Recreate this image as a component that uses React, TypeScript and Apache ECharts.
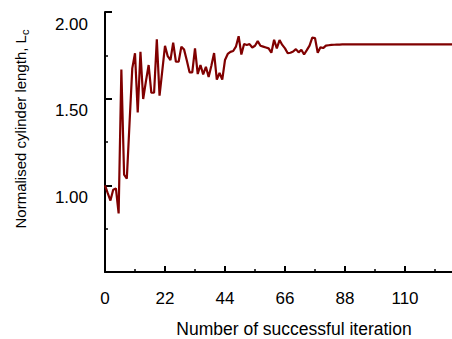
import React, { useEffect, useRef } from "react";
import * as echarts from "echarts";

const iterations: number[] = [
  0, 1, 2, 3, 4, 5, 6, 7, 8, 9, 10, 11, 12, 13, 14, 15, 16, 17, 18, 19,
  20, 21, 22, 23, 24, 25, 26, 27, 28, 29, 30, 31, 32, 33, 34, 35, 36, 37, 38, 39,
  40, 41, 42, 43, 44, 45, 46, 47, 48, 49, 50, 51, 52, 53, 54, 55, 56, 57, 58, 59,
  60, 61, 62, 63, 64, 65, 66, 67, 68, 69, 70, 71, 72, 73, 74, 75, 76, 77, 78, 79,
  80, 81, 82, 83, 84, 85, 86, 87, 88, 89, 90, 91, 92, 93, 94, 95, 96, 97, 98, 99,
  100, 101, 102, 103, 104, 105, 106, 107, 108, 109, 110, 111, 112, 113, 114, 115, 116, 117, 118, 119,
  120, 121, 122, 123, 124, 125, 126, 127, 128, 129, 130, 131, 132,
];

const cylinderLength: number[] = [
  1.0, 0.955, 0.912, 0.975, 0.982, 0.838, 1.668, 1.062, 1.038, 1.36,
  1.675, 1.762, 1.42, 1.771, 1.498, 1.6, 1.694, 1.534, 1.534, 1.842,
  1.517, 1.66, 1.805, 1.745, 1.722, 1.823, 1.713, 1.713, 1.8, 1.783,
  1.72, 1.652, 1.652, 1.79, 1.642, 1.694, 1.64, 1.684, 1.625, 1.69,
  1.763, 1.61, 1.648, 1.61, 1.723, 1.758, 1.77, 1.775, 1.8, 1.86,
  1.755, 1.815, 1.81, 1.815, 1.795, 1.805, 1.832, 1.805, 1.8, 1.795,
  1.79, 1.765, 1.84, 1.79, 1.838, 1.81, 1.79, 1.762, 1.765, 1.772,
  1.786, 1.767, 1.782, 1.755, 1.78, 1.806, 1.852, 1.85, 1.765, 1.796,
  1.792, 1.806, 1.808, 1.81, 1.811, 1.812, 1.812, 1.813, 1.813, 1.813,
  1.813, 1.813, 1.813, 1.813, 1.813, 1.813, 1.813, 1.813, 1.813, 1.813,
  1.813, 1.813, 1.813, 1.813, 1.813, 1.813, 1.813, 1.813, 1.813, 1.813,
  1.813, 1.813, 1.813, 1.813, 1.813, 1.813, 1.813, 1.813, 1.813, 1.813,
  1.813, 1.813, 1.813, 1.813, 1.813, 1.813, 1.813, 1.813, 1.813, 1.813,
  1.813, 1.813, 1.813,
];

const yTickLabels: number[] = [1.0, 1.5, 2.0];
const xTickLabels: number[] = [0, 22, 44, 66, 88, 110];
const xTitle = "Number of successful iteration";
const yTitle = "Normalised cylinder length, L";
const yTitleSub = "c";

const FONT = "'Liberation Sans', Arial, sans-serif";

export default function App() {
  const ref = useRef<HTMLDivElement>(null);

  useEffect(() => {
    if (!ref.current) return;
    const chart = echarts.init(ref.current, undefined, { renderer: "svg" });
    const data = iterations.map((x, i) => [x, cylinderLength[i]]);
    chart.setOption({
      animation: false,
      backgroundColor: "#ffffff",
      textStyle: { fontFamily: FONT },
      grid: {
        left: 105,
        top: 12,
        bottom: 67,
        right: -13,
        containLabel: false,
        outerBoundsMode: "none",
      },
      xAxis: {
        type: "value",
        min: 0,
        max: 132,
        interval: 22,
        axisLine: { show: true, lineStyle: { color: "#000", width: 2 } },
        axisTick: { show: true, inside: true, length: 6, lineStyle: { color: "#000", width: 2 } },
        minorTick: { show: true, splitNumber: 2, length: 3, lineStyle: { color: "#000", width: 1.5 } },
        splitLine: { show: false },
        axisLabel: {
          margin: 18,
          fontSize: 17,
          color: "#000",
          fontFamily: FONT,
          showMinLabel: true,
          showMaxLabel: false,
          formatter: (v: number) => (xTickLabels.includes(v) ? String(v) : ""),
        },
      },
      yAxis: {
        type: "value",
        min: 0.5,
        max: 2.0,
        interval: 0.5,
        axisLine: { show: true, lineStyle: { color: "#000", width: 2 } },
        axisTick: { show: true, inside: true, length: 7, lineStyle: { color: "#000", width: 2 } },
        minorTick: { show: true, splitNumber: 2, length: 3, lineStyle: { color: "#000", width: 1.5 } },
        splitLine: { show: false },
        axisLabel: {
          margin: 17,
          fontSize: 17,
          color: "#000",
          fontFamily: FONT,
          verticalAlign: "top",
          lineHeight: 24,
          formatter: (v: number) =>
            yTickLabels.some((t) => Math.abs(t - v) < 1e-6) ? v.toFixed(2) : "",
        },
      },
      graphic: [
        {
          type: "text",
          x: 294,
          y: 329,
          style: {
            text: xTitle,
            fontSize: 17.5,
            fontFamily: FONT,
            fill: "#000",
            align: "center",
            verticalAlign: "middle",
          },
        },
        {
          type: "text",
          x: 20,
          y: 129,
          rotation: Math.PI / 2,
          style: {
            text: yTitle + "{sub|" + yTitleSub + "}",
            fontSize: 15,
            fontFamily: FONT,
            fill: "#000",
            align: "center",
            verticalAlign: "middle",
            rich: {
              sub: { fontSize: 11, fontFamily: FONT, fill: "#000", padding: [9, 0, 0, 0] },
            },
          },
        },
      ],
      series: [
        {
          type: "line",
          data,
          showSymbol: false,
          symbol: "none",
          smooth: false,
          lineStyle: { color: "#800000", width: 2.2 },
          itemStyle: { color: "#800000" },
        },
      ],
    });
    return () => chart.dispose();
  }, []);

  return (
    <div
      ref={ref}
      style={{ position: "absolute", left: 0, top: 0, width: 452, height: 339 }}
    />
  );
}
